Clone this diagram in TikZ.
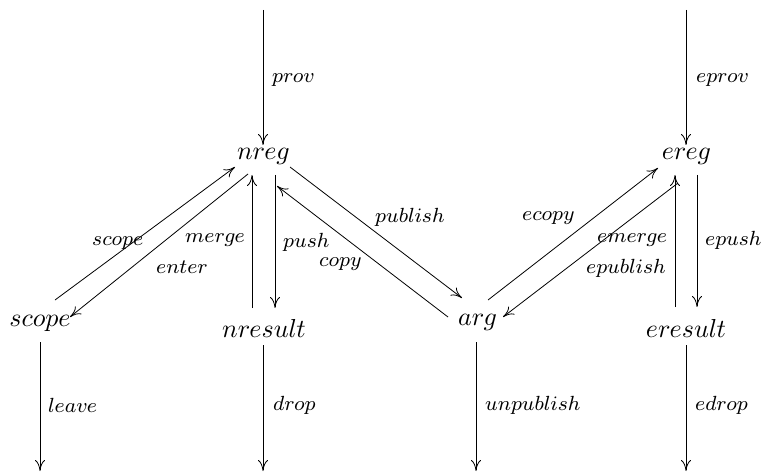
\documentclass[tikz,border=0pt]{standalone}
\usetikzlibrary{arrows.meta}
% math italic faces at fixed design sizes, scaled up
\font\objfont=cmmi10 at 26pt
\font\lblfont=cmmi8 at 20.5pt
\begin{document}
\begin{tikzpicture}[x=1pt,y=-1pt,
  obj/.style={inner sep=0pt,font=\objfont},
  lbl/.style={inner sep=0pt,anchor=west,font=\lblfont},
  arr/.style={line width=0.8pt,-{Computer Modern Rightarrow[length=11pt,width=10pt]}}]
\useasboundingbox (0,0) rectangle (762,473);

% objects
\node[obj] (nreg)    at (263,156) {nreg};
\node[obj] (ereg)    at (686,156) {ereg};
\node[obj] (scope)   at (40,323)  {scope};
\node[obj] (nresult) at (264,328) {nresult};
\node[obj] (arg)     at (477,322) {arg};
\node[obj] (eresult) at (686,328) {eresult};

% free ends of the entry and exit arrows
\coordinate (provin)  at (263,10);
\coordinate (eprovin) at (686,10);
\coordinate (leaveout) at (40,471);
\coordinate (dropout)  at (263,471);
\coordinate (unpubout) at (476,471);
\coordinate (edropout) at (686,471);

% entry arrows
\draw[arr] (provin)  -- ([shift={(0,-11)}]nreg.center);
\draw[arr] (eprovin) -- ([shift={(0,-11)}]ereg.center);

% nreg / nresult
\draw[arr] ([shift={(-12,-20)}]nresult.center) -- ([shift={(-11,19)}]nreg.center);
\draw[arr] ([shift={(12,19)}]nreg.center) -- ([shift={(11,-20)}]nresult.center);

% scope / nreg
\draw[arr] ([shift={(15,-23)}]scope.center) -- ([shift={(-28,11)}]nreg.center);
\draw[arr] ([shift={(-15,18)}]nreg.center) -- ([shift={(30,-6)}]scope.center);

% nreg / arg
\draw[arr] ([shift={(27,11)}]nreg.center) -- ([shift={(-15,-24)}]arg.center);
\draw[arr] ([shift={(-29,-5)}]arg.center) -- ([shift={(14,30)}]nreg.center);

% arg / ereg
\draw[arr] ([shift={(11,-22)}]arg.center) -- ([shift={(-28,12)}]ereg.center);
\draw[arr] ([shift={(-8,27)}]ereg.center) -- ([shift={(26,-5)}]arg.center);

% ereg / eresult
\draw[arr] ([shift={(-11,-21)}]eresult.center) -- ([shift={(-11,19)}]ereg.center);
\draw[arr] ([shift={(11,19)}]ereg.center) -- ([shift={(11,-21)}]eresult.center);

% exit arrows
\draw[arr] ([shift={(0,19)}]scope.center)   -- (leaveout);
\draw[arr] ([shift={(-1,17)}]nresult.center) -- (dropout);
\draw[arr] ([shift={(-1,20)}]arg.center)    -- (unpubout);
\draw[arr] ([shift={(0,17)}]eresult.center) -- (edropout);

% labels
\node[lbl] (lprov)      at (272,80)  {prov};
\node[lbl] (leprov)     at (696,80)  {eprov};
\node[lbl] (lscope)     at (92,243)  {scope};
\node[lbl] (lmerge)     at (185,240) {merge};
\node[lbl] (lenter)     at (156,267) {enter};
\node[lbl] (lpush)      at (283,242) {push};
\node[lbl] (lcopy)      at (319,264) {copy};
\node[lbl] (lpublish)   at (375,217) {publish};
\node[lbl] (lecopy)     at (522,218) {ecopy};
\node[lbl] (lemerge)    at (597,240) {emerge};
\node[lbl] (lepublish)  at (586,268) {epublish};
\node[lbl] (lepush)     at (705,240) {epush};
\node[lbl] (lleave)     at (48,405)  {leave};
\node[lbl] (ldrop)      at (273,405) {drop};
\node[lbl] (lunpublish) at (485,405) {unpublish};
\node[lbl] (ledrop)     at (695,405) {edrop};
\end{tikzpicture}
\end{document}
